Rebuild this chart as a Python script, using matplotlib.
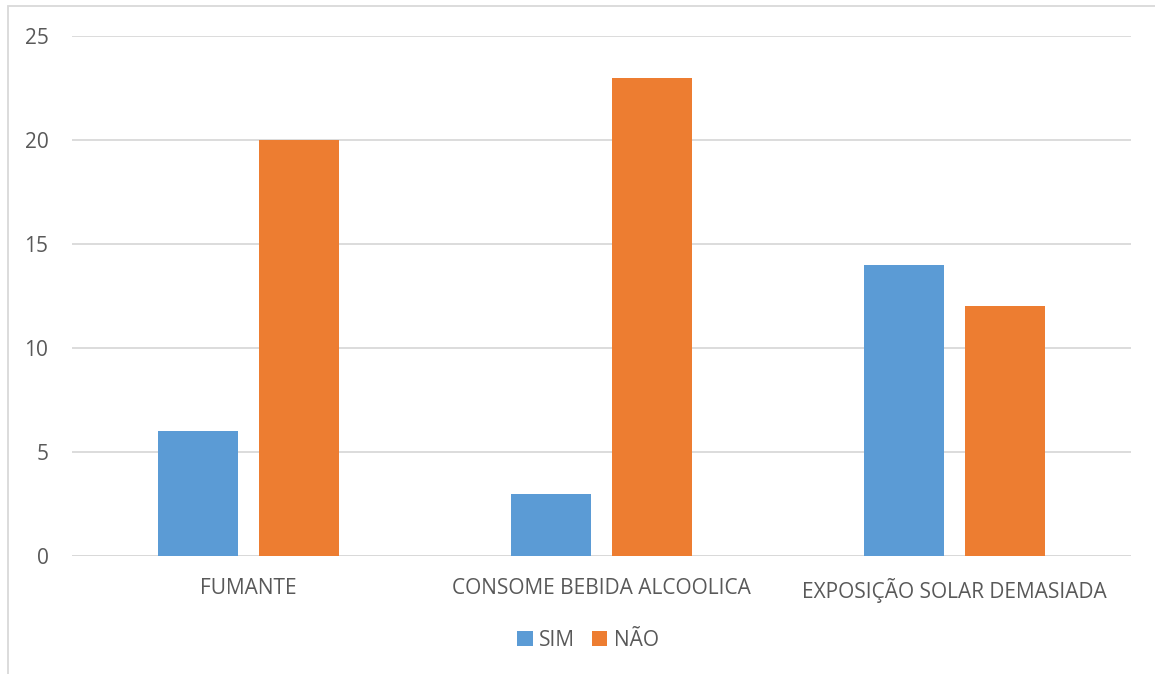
import numpy as np
import matplotlib.pyplot as plt
from matplotlib.patches import Rectangle

categorias = ["FUMANTE", "CONSOME BEBIDA ALCOOLICA", "EXPOSIÇÃO SOLAR DEMASIADA"]
sim = [6, 3, 14]
nao = [20, 23, 12]

plt.rcParams['font.family'] = ['Open Sans', 'DejaVu Sans']
txt_color = "#595959"

fig = plt.figure(figsize=(11.55, 6.74), dpi=100)
ax = fig.add_axes([72/1155, 1 - 556/674, (1131 - 72)/1155, (556 - 36)/674])

x = np.arange(len(categorias))
w = 0.227
ax.bar(x - 0.143, sim, w, color="#5B9BD5", label="SIM", zorder=3)
ax.bar(x + 0.142, nao, w, color="#ED7D31", label="NÃO", zorder=3)

ax.set_xlim(-0.5, 2.5)
ax.set_ylim(0, 25)
ax.set_yticks(range(0, 26, 5))
ax.yaxis.grid(True, color="#D9D9D9", linewidth=1.3, zorder=0)
ax.set_xticks(x)
ax.set_xticklabels(categorias)
ax.tick_params(axis="both", length=0, labelsize=15, colors=txt_color)
ax.tick_params(axis="x", pad=16)
ax.tick_params(axis="y", pad=17)
for s in ax.spines.values():
    s.set_visible(False)
ax.axhline(0, color="#D9D9D9", linewidth=1.3, zorder=2)

leg = fig.legend(loc="center", bbox_to_anchor=(588/1155, 1 - 640/674), ncol=2, frameon=False,
                 fontsize=15, handlelength=0.75, handleheight=0.75, handletextpad=0.3, columnspacing=0.8)
for t in leg.get_texts():
    t.set_color(txt_color)

# chart border (top and left visible)
fig.add_artist(Rectangle((8/1155, -0.1), 1.2, 1 - 6/674 + 0.1, transform=fig.transFigure,
                         fill=False, edgecolor="#D9D9D9", linewidth=1.3))

fig.savefig("out.png", dpi=100)
